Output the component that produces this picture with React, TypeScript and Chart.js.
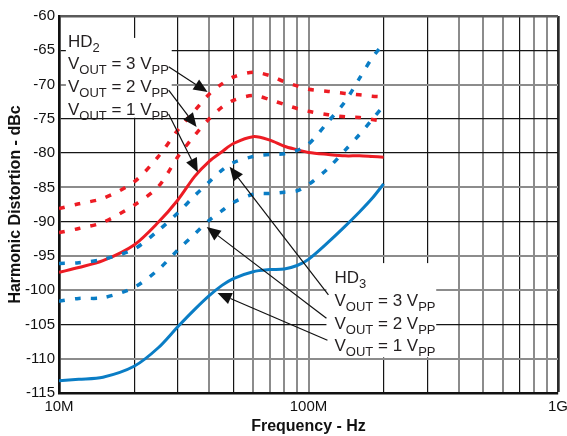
import React, { useEffect, useRef } from 'react';
import { Chart, registerables } from 'chart.js';

Chart.register(...registerables);

// ---- data (frequency in MHz, distortion in dBc) ----
const freqMHz = [10, 12, 15, 20, 25, 30, 35, 40, 45, 50, 60, 70, 80, 90, 100, 120, 140, 160, 180, 200];

const hd2_3Vpp = [-88.1, -87.4, -86.6, -84.2, -80.5, -76.6, -73.8, -71.4, -69.9, -68.9, -68.2, -68.7, -69.6, -70.2, -70.7, -71.0, -71.3, -71.5, -71.7, -71.8];
const hd2_2Vpp = [-91.6, -91.0, -90.1, -87.6, -84.9, -80.5, -77.4, -75.0, -73.3, -72.3, -71.6, -72.2, -72.9, -73.5, -73.9, -74.4, -74.7, -74.8, -75.1, -75.4];
const hd2_1Vpp = [-97.4, -96.7, -95.7, -93.4, -90.1, -86.8, -83.4, -81.2, -79.8, -78.6, -77.6, -78.1, -79.0, -79.5, -79.9, -80.2, -80.4, -80.4, -80.5, -80.6];
const hd3_3Vpp = [-96.1, -96.0, -95.5, -94.0, -91.3, -88.7, -86.2, -84.2, -82.5, -81.4, -80.5, -80.2, -80.1, -79.6, -78.7, -75.4, -72.5, -69.1, -66.1, -64.0];
const hd3_2Vpp = [-101.6, -101.2, -101.1, -99.6, -97.0, -94.1, -91.8, -89.8, -88.4, -87.2, -86.0, -85.9, -85.7, -85.5, -84.6, -82.2, -79.6, -77.3, -75.1, -73.1];
const hd3_1Vpp = [-113.2, -113.0, -112.7, -111.1, -108.4, -105.3, -102.8, -100.8, -99.3, -98.3, -97.3, -97.0, -96.9, -96.4, -95.5, -93.0, -90.7, -88.6, -86.6, -84.5];

const xTickLabels: Record<string, string> = { '10000000': '10M', '100000000': '100M', '1000000000': '1G' };
const yMin = -115;
const yMax = -60;
const yStep = 5;

const xAxisTitle = 'Frequency - Hz';
const yAxisTitle = 'Harmonic Distortion - dBc';

const RED = '#ED1C24';
const BLUE = '#0A7DC5';
const FONT = '"Liberation Sans", Arial, Helvetica, sans-serif';
const TEXT = '#231F20';

const toPoints = (vals: number[]) => vals.map((v, i) => ({ x: freqMHz[i] * 1e6, y: v }));

const xGray = new Set([4e7, 6e7, 7e7, 8e7, 9e7, 1e8, 4e8, 5e8, 6e8, 8e8, 9e8]);
const yGray = new Set([-70, -85, -95, -100, -110]);

type Part = [string, boolean];

function drawRich(ctx: CanvasRenderingContext2D, x: number, y: number, parts: Part[]) {
  let cx = x;
  for (const [t, sub] of parts) {
    ctx.font = sub ? `13px ${FONT}` : `17px ${FONT}`;
    ctx.fillText(t, cx, sub ? y + 5 : y);
    cx += ctx.measureText(t).width;
  }
}

function arrow(ctx: CanvasRenderingContext2D, x1: number, y1: number, x2: number, y2: number) {
  const head = 14;
  const half = 6;
  const a = Math.atan2(y2 - y1, x2 - x1);
  const bx = x2 - head * Math.cos(a);
  const by = y2 - head * Math.sin(a);
  ctx.beginPath();
  ctx.moveTo(x1, y1);
  ctx.lineTo(bx, by);
  ctx.stroke();
  ctx.beginPath();
  ctx.moveTo(x2, y2);
  ctx.lineTo(bx + half * Math.sin(a), by - half * Math.cos(a));
  ctx.lineTo(bx - half * Math.sin(a), by + half * Math.cos(a));
  ctx.closePath();
  ctx.fill();
}

const annotationPlugin = {
  id: 'annotations',
  beforeDatasetsDraw(chart: any) {
    const { ctx } = chart;
    const xs = chart.scales.x;
    const ys = chart.scales.y;
    const X = (mhz: number) => xs.getPixelForValue(mhz * 1e6);
    const Y = (db: number) => ys.getPixelForValue(db);
    ctx.save();
    ctx.fillStyle = '#ffffff';
    // HD2 label background
    ctx.fillRect(X(10.66), Y(-62.0), X(15.2) - X(10.66), Y(-65.3) - Y(-62.0));
    ctx.fillRect(X(10.66), Y(-63.2), X(28.3) - X(10.66), Y(-74.85) - Y(-63.2));
    // HD3 label background
    ctx.fillRect(X(118), Y(-96.05), X(325) - X(118), Y(-109.8) - Y(-96.05));
    ctx.restore();
  },
  afterDatasetsDraw(chart: any) {
    const { ctx } = chart;
    const xs = chart.scales.x;
    const ys = chart.scales.y;
    const X = (mhz: number) => xs.getPixelForValue(mhz * 1e6);
    const Y = (db: number) => ys.getPixelForValue(db);
    ctx.save();
    ctx.fillStyle = TEXT;
    ctx.textBaseline = 'alphabetic';
    ctx.textAlign = 'left';
    // HD2 block
    const x2 = X(10.86);
    drawRich(ctx, x2, Y(-64.52), [['HD', false], ['2', true]]);
    drawRich(ctx, x2, Y(-67.75), [['V', false], ['OUT', true], [' = 3 V', false], ['PP', true]]);
    drawRich(ctx, x2, Y(-71.1), [['V', false], ['OUT', true], [' = 2 V', false], ['PP', true]]);
    drawRich(ctx, x2, Y(-74.45), [['V', false], ['OUT', true], [' = 1 V', false], ['PP', true]]);
    // HD3 block
    const x3 = X(127.1);
    drawRich(ctx, x3, Y(-98.95), [['HD', false], ['3', true]]);
    drawRich(ctx, x3, Y(-102.3), [['V', false], ['OUT', true], [' = 3 V', false], ['PP', true]]);
    drawRich(ctx, x3, Y(-105.65), [['V', false], ['OUT', true], [' = 2 V', false], ['PP', true]]);
    drawRich(ctx, x3, Y(-108.85), [['V', false], ['OUT', true], [' = 1 V', false], ['PP', true]]);

    // arrows
    ctx.strokeStyle = '#111';
    ctx.fillStyle = '#111';
    ctx.lineWidth = 1.2;
    arrow(ctx, X(27.5), Y(-67.4), X(39.4), Y(-71.1));
    arrow(ctx, X(27.5), Y(-70.8), X(35.6), Y(-76.2));
    arrow(ctx, X(27.5), Y(-74.3), X(36.0), Y(-82.8));
    arrow(ctx, X(120.2), Y(-100.7), X(48.3), Y(-82.0));
    arrow(ctx, X(118.0), Y(-104.1), X(39.1), Y(-90.8));
    arrow(ctx, X(119.1), Y(-107.3), X(43.2), Y(-100.4));
    ctx.restore();
  },
};

export default function App() {
  const ref = useRef<HTMLCanvasElement | null>(null);

  useEffect(() => {
    const canvas = ref.current;
    if (!canvas) return;
    document.body.style.margin = '0';

    const dotted = { borderDash: [6, 10], borderWidth: 3.5, borderCapStyle: 'butt' as const };
    const solid = { borderWidth: 3 };

    const chart = new Chart(canvas, {
      type: 'line',
      data: {
        datasets: [
          { label: 'HD3 3Vpp', data: toPoints(hd3_3Vpp), borderColor: BLUE, ...dotted },
          { label: 'HD3 2Vpp', data: toPoints(hd3_2Vpp), borderColor: BLUE, ...dotted },
          { label: 'HD3 1Vpp', data: toPoints(hd3_1Vpp), borderColor: BLUE, ...solid },
          { label: 'HD2 3Vpp', data: toPoints(hd2_3Vpp), borderColor: RED, ...dotted },
          { label: 'HD2 2Vpp', data: toPoints(hd2_2Vpp), borderColor: RED, ...dotted },
          { label: 'HD2 1Vpp', data: toPoints(hd2_1Vpp), borderColor: RED, ...solid },
        ].map((d) => ({
          ...d,
          pointRadius: 0,
          fill: false,
          tension: 0.3,
        })),
      },
      options: {
        responsive: false,
        animation: false,
        events: [],
        layout: { padding: { left: 0, right: 9, top: 16, bottom: 0 } },
        plugins: { legend: { display: false }, tooltip: { enabled: false } },
        scales: {
          x: {
            type: 'logarithmic',
            min: 1e7,
            max: 1e9,
            afterBuildTicks: (s: any) => {
              const vals: number[] = [];
              for (const dec of [1e7, 1e8]) for (let k = 1; k <= 9; k++) vals.push(k * dec);
              vals.push(1e9);
              s.ticks = vals.map((v) => ({ value: v }));
            },
            afterFit: (s: any) => {
              s.height = 43;
              s.paddingLeft = 0;
              s.paddingRight = 0;
            },
            ticks: {
              autoSkip: false,
              maxRotation: 0,
              minRotation: 0,
              padding: 5,
              color: '#111',
              font: { family: FONT, size: 15 },
              callback: (v: any) => xTickLabels[String(Math.round(Number(v)))] ?? '',
            },
            grid: {
              drawTicks: false,
              color: (c: any) => {
                const v = c.tick?.value;
                if (v === 1e7) return 'rgba(0,0,0,0)';
                if (v === 1e9) return '#2a2a2a';
                return xGray.has(v) ? '#8c8c8c' : '#151515';
              },
              lineWidth: (c: any) => {
                const v = c.tick?.value;
                if (v === 1e9) return 2.7;
                return xGray.has(v) ? 2 : 1.2;
              },
            },
            border: { color: '#111', width: 2.5 },
            title: {
              display: true,
              text: xAxisTitle,
              color: '#111',
              font: { family: FONT, size: 16, weight: 'bold' },
              padding: { top: 0, bottom: 0 },
            },
          },
          y: {
            type: 'linear',
            min: yMin,
            max: yMax,
            afterFit: (s: any) => {
              s.width = 59;
              s.paddingTop = 0;
              s.paddingBottom = 0;
            },
            ticks: {
              stepSize: yStep,
              padding: 4,
              color: '#111',
              font: { family: FONT, size: 15 },
              callback: (v: any) => String(v),
            },
            grid: {
              drawTicks: false,
              color: (c: any) => {
                const v = c.tick?.value;
                if (v === yMin) return 'rgba(0,0,0,0)';
                if (v === yMax) return '#5a5a5a';
                return yGray.has(v) ? '#8c8c8c' : '#151515';
              },
              lineWidth: (c: any) => {
                const v = c.tick?.value;
                if (v === yMax) return 2.5;
                return yGray.has(v) ? 2 : 1.2;
              },
            },
            border: { color: '#111', width: 2.7 },
            title: {
              display: true,
              text: yAxisTitle,
              color: '#111',
              font: { family: FONT, size: 16, weight: 'bold' },
              padding: { top: 6, bottom: 0 },
            },
          },
        },
      } as any,
      plugins: [annotationPlugin],
    });

    return () => chart.destroy();
  }, []);

  return (
    <div style={{ position: 'absolute', left: 0, top: 0, width: 567, height: 436 }}>
      <canvas ref={ref} width={567} height={436} style={{ display: 'block' }} />
    </div>
  );
}
